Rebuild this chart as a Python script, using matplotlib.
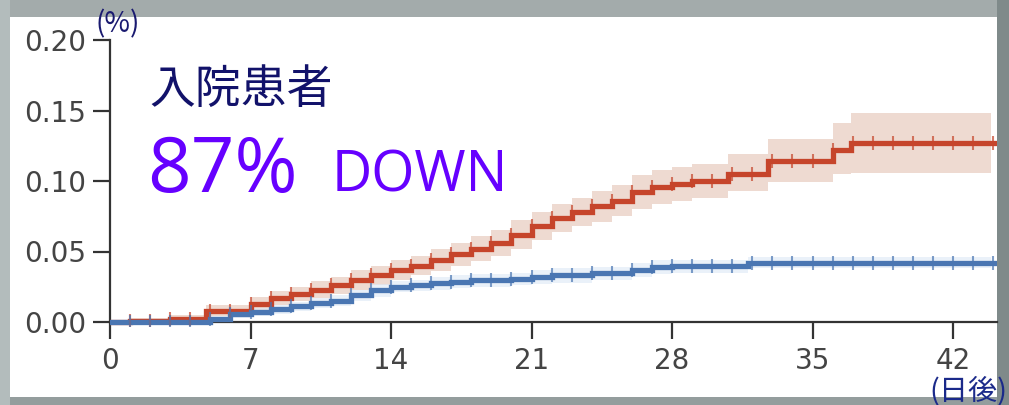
import numpy as np
import matplotlib
matplotlib.use("Agg")
import matplotlib.pyplot as plt
from matplotlib.patches import Rectangle

# ---------------- data ----------------
x_ticks = [0, 7, 14, 21, 28, 35, 42]
y_ticks = [0.00, 0.05, 0.10, 0.15, 0.20]
y_tick_labels = ["0.00", "0.05", "0.10", "0.15", "0.20"]

red_t = [0, 1, 3, 4.8, 7, 8, 9, 10, 11, 12, 13, 14, 15, 16, 17, 18, 19, 20, 21, 22,
         23, 24, 25, 26, 27, 28, 29, 30.8, 32.8, 36, 36.9]
red_v = [0.0, 0.001, 0.002, 0.008, 0.013, 0.017, 0.020, 0.023, 0.026, 0.030, 0.033,
         0.037, 0.040, 0.044, 0.048, 0.052, 0.056, 0.062, 0.068, 0.074, 0.078, 0.082,
         0.086, 0.092, 0.096, 0.098, 0.100, 0.105, 0.114, 0.122, 0.127]
red_lo = [0.0, 0.0, 0.0, 0.004, 0.008, 0.012, 0.015, 0.017, 0.020, 0.023, 0.026,
          0.030, 0.033, 0.036, 0.040, 0.043, 0.047, 0.052, 0.058, 0.064, 0.068, 0.071,
          0.075, 0.080, 0.084, 0.086, 0.088, 0.093, 0.099, 0.105, 0.106]
red_hi = [0.0, 0.003, 0.005, 0.012, 0.018, 0.022, 0.025, 0.029, 0.032, 0.037, 0.040,
          0.044, 0.047, 0.052, 0.056, 0.061, 0.065, 0.072, 0.078, 0.084, 0.088, 0.093,
          0.097, 0.104, 0.108, 0.110, 0.112, 0.119, 0.130, 0.141, 0.148]

blue_t = [0, 5, 6, 7, 8, 9, 10, 11, 12, 13, 14, 15, 16, 17, 18, 20, 21, 22, 24, 26,
          27, 28, 31.8]
blue_v = [0.0, 0.002, 0.006, 0.007, 0.009, 0.011, 0.0135, 0.015, 0.019, 0.0225, 0.025,
          0.026, 0.0275, 0.0285, 0.0295, 0.0305, 0.032, 0.033, 0.0345, 0.037, 0.039,
          0.0395, 0.042]
blue_lo = [0.0, 0.0, 0.003, 0.004, 0.006, 0.008, 0.010, 0.011, 0.015, 0.018, 0.021,
           0.022, 0.023, 0.024, 0.025, 0.026, 0.027, 0.028, 0.030, 0.032, 0.034,
           0.035, 0.038]
blue_hi = [0.0, 0.004, 0.009, 0.010, 0.012, 0.014, 0.017, 0.019, 0.023, 0.027, 0.029,
           0.030, 0.032, 0.033, 0.034, 0.035, 0.037, 0.038, 0.039, 0.042, 0.044,
           0.044, 0.046]

censor_days = list(range(1, 45))
band_end = 43.9
line_end = 44.6

# ---------------- figure ----------------
W, H = 1009, 405
fig = plt.figure(figsize=(W / 100, H / 100), dpi=100)
fig.patch.set_facecolor("#949d9d")
fig.add_artist(Rectangle((0, 1 - 17 / H), 1, 17 / H, transform=fig.transFigure,
                         facecolor="#a3abab", edgecolor="none", zorder=0))
fig.add_artist(Rectangle((0, 0), 10 / W, 1, transform=fig.transFigure,
                         facecolor="#b3bcbc", edgecolor="none", zorder=0))
fig.add_artist(Rectangle((997 / W, 0), 12 / W, 1, transform=fig.transFigure,
                         facecolor="#7f8a8a", edgecolor="none", zorder=0))
fig.add_artist(Rectangle((10 / W, 8 / H), (997 - 10) / W, (397 - 17) / H,
                         transform=fig.transFigure, facecolor="white",
                         edgecolor="none", zorder=0))

y0_px, ytop_px = 322, 40
per = (y0_px - ytop_px) / 0.20
ybot = -0.003
ax_bottom_px = y0_px - ybot * per
ax = fig.add_axes([110 / W, (H - ax_bottom_px) / H, (997 - 110) / W,
                   (ax_bottom_px - ytop_px) / H])
ax.patch.set_alpha(0)
xmax = 42 + (997 - 953) / ((953 - 110) / 42)
ax.set_xlim(0, xmax)
ax.set_ylim(ybot, 0.20)


def ext(t, v, end):
    return list(t) + [end], list(v) + [v[-1]]


red_c = "#c6452b"
blue_c = "#4a76b2"

tt, lo = ext(red_t, red_lo, band_end)
_, hi = ext(red_t, red_hi, band_end)
ax.fill_between(tt, lo, hi, step="post", color="#ecd4c9", alpha=0.85, lw=0, zorder=1)
tt, lo = ext(blue_t, blue_lo, band_end)
_, hi = ext(blue_t, blue_hi, band_end)
ax.fill_between(tt, lo, hi, step="post", color="#dce9f6", alpha=0.6, lw=0, zorder=1)

for t, v, c in [(red_t, red_v, red_c), (blue_t, blue_v, blue_c)]:
    tt, vv = ext(t, v, line_end)
    ax.step(tt, vv, where="post", color=c, lw=3.8, zorder=3, solid_joinstyle="miter")
    idx = np.searchsorted(t, censor_days, side="right") - 1
    cy = np.array(v)[idx]
    ax.plot(censor_days, cy, ls="none", marker="|", ms=10, mew=1.5,
            color=c, alpha=0.7, zorder=4)

for s in ["top", "right"]:
    ax.spines[s].set_visible(False)
ax.spines["bottom"].set_position(("data", 0))
ax.spines["left"].set_bounds(0, 0.20)
for s in ["left", "bottom"]:
    ax.spines[s].set_color("#333333")
    ax.spines[s].set_linewidth(1.6)
    ax.spines[s].set_zorder(2)

ax.set_xticks(x_ticks)
ax.set_xticklabels([str(v) for v in x_ticks])
ax.set_yticks(y_ticks)
ax.set_yticklabels(y_tick_labels)
ax.tick_params(axis="both", colors="#333333", labelcolor="#444444", width=1.6,
               labelsize=20, length=12, direction="out")
ax.tick_params(axis="x", pad=6)
ax.tick_params(axis="y", pad=5)
for lab in ax.get_xticklabels() + ax.get_yticklabels():
    lab.set_family("DejaVu Sans")


def fx(px):
    return px / W


def fy(py):
    return 1 - py / H


jp = ["Noto Sans CJK JP", "DejaVu Sans"]
lat = ["Open Sans", "DejaVu Sans"]
fig.text(fx(149), fy(90), "入院患者", family=jp, fontsize=33, color="#12126a",
         va="center", ha="left")
fig.text(fx(147), fy(192), "87%", family=lat, fontsize=55, color="#6600ff",
         va="baseline", ha="left")
fig.text(fx(332), fy(192), "DOWN", family=lat, fontsize=40, color="#6600ff",
         va="baseline", ha="left")
fig.text(fx(95), fy(24), "(%)", family=jp, fontsize=20, color="#1a1a70",
         va="center", ha="left")
fig.text(fx(929), fy(391), "(日後)", family=jp, fontsize=21, color="#1b2a8a",
         va="center", ha="left")

fig.savefig("out.png", dpi=100, facecolor=fig.get_facecolor())
